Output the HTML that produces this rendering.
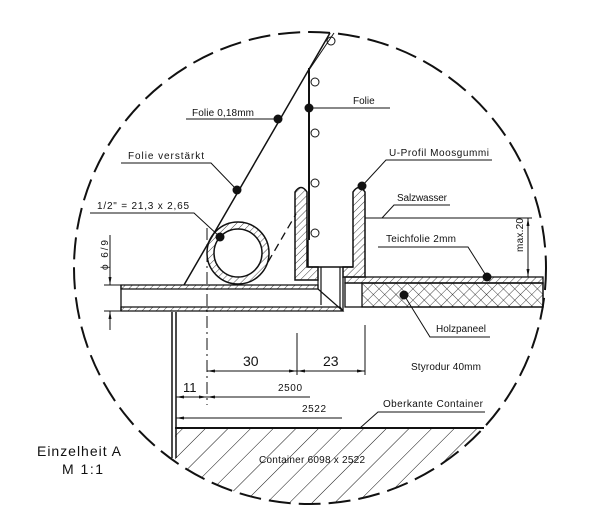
<!DOCTYPE html>
<html><head><meta charset="utf-8"><style>
html,body{margin:0;padding:0;background:#fff;}
svg{display:block;}
text{font-family:"Liberation Sans",sans-serif;fill:#111;}
</style></head><body>
<svg width="600" height="527" viewBox="0 0 600 527" xmlns="http://www.w3.org/2000/svg">
<defs>
<pattern id="h1" width="5" height="5" patternUnits="userSpaceOnUse" patternTransform="rotate(45)"><line x1="0" y1="0" x2="0" y2="5" stroke="#111" stroke-width="0.8"/></pattern>
<pattern id="h2" width="16" height="16" patternUnits="userSpaceOnUse" patternTransform="rotate(45)"><line x1="0" y1="0" x2="0" y2="16" stroke="#111" stroke-width="1"/></pattern>
<pattern id="hx" width="8" height="8" patternUnits="userSpaceOnUse" patternTransform="rotate(45)"><line x1="0" y1="0" x2="0" y2="8" stroke="#111" stroke-width="0.8"/><line x1="0" y1="0" x2="8" y2="0" stroke="#111" stroke-width="0.8"/></pattern>
<clipPath id="cc"><circle cx="310" cy="268" r="236"/></clipPath>
<marker id="ar" markerWidth="8" markerHeight="6" refX="8" refY="3" orient="auto-start-reverse" markerUnits="userSpaceOnUse"><path d="M0,1.5 L8,3 L0,4.5z" fill="#111"/></marker>
</defs>
<g fill="none" stroke="#111">
<circle cx="310" cy="268" r="236" stroke-width="2" stroke-dasharray="22,8"/>
<g clip-path="url(#cc)">
<rect x="175" y="428" width="320" height="90" fill="url(#h2)" stroke="none"/>
</g>
<line x1="175" y1="428" x2="484" y2="428" stroke-width="2"/>
<line x1="172" y1="312" x2="172" y2="458" stroke-width="1.5"/>
<line x1="176" y1="312" x2="176" y2="458" stroke-width="1.5"/>
<line x1="330" y1="33" x2="184" y2="285" stroke-width="1.5"/>
<line x1="334" y1="33" x2="309" y2="70" stroke-width="1"/>
<line x1="309" y1="68" x2="309" y2="240" stroke-width="2"/>
<line x1="308" y1="240" x2="308" y2="267" stroke-width="1.5"/>
<line x1="308" y1="267" x2="353" y2="267" stroke-width="1.5"/>
<circle cx="331" cy="41" r="4" stroke-width="1"/>
<circle cx="315" cy="82" r="4" stroke-width="1"/>
<circle cx="315" cy="133" r="4" stroke-width="1"/>
<circle cx="315" cy="183" r="4" stroke-width="1"/>
<circle cx="315" cy="233" r="4" stroke-width="1"/>
<path d="M295,192 Q301,183 307,192 L307,267 L318,267 L318,280 L295,280 Z" fill="url(#h1)" stroke-width="1.5"/>
<path d="M353,192 Q359,183 365,192 L365,277 L343,277 L343,267 L353,267 Z" fill="url(#h1)" stroke-width="1.5"/>
<line x1="321" y1="267" x2="321" y2="305" stroke-width="1.2"/>
<line x1="340" y1="267" x2="340" y2="307" stroke-width="1.2"/>
<path d="M121,285 L318,285 L318,289 L121,289 Z" fill="url(#h1)" stroke-width="1.3"/>
<path d="M121,307 L340,307 L343,311 L121,311 Z" fill="url(#h1)" stroke-width="1.3"/>
<line x1="121" y1="285" x2="121" y2="311" stroke-width="1.3"/>
<line x1="318" y1="289" x2="343" y2="311" stroke-width="1.2"/>
<line x1="318" y1="280" x2="318" y2="289" stroke-width="1.2"/>
<line x1="343" y1="277" x2="343" y2="311" stroke-width="1.3"/>
<circle cx="238" cy="253" r="31" fill="url(#h1)" stroke-width="1.5"/>
<circle cx="238" cy="253" r="24" fill="#fff" stroke-width="1.5"/>
<line x1="268" y1="262" x2="296" y2="214" stroke-width="1.3" stroke-dasharray="8,5"/>
<rect x="345" y="277" width="198" height="6" fill="url(#h1)" stroke-width="1.3"/>
<rect x="345" y="283" width="198" height="24" stroke-width="1.3"/>
<rect x="362" y="283" width="181" height="24" fill="url(#hx)" stroke-width="1.3"/>
<line x1="365" y1="218" x2="532" y2="218" stroke-width="1"/>
<line x1="528" y1="218" x2="528" y2="277" stroke-width="1" marker-start="url(#ar)" marker-end="url(#ar)"/>
<line x1="110" y1="235" x2="110" y2="285" stroke-width="1" marker-end="url(#ar)"/>
<line x1="110" y1="330" x2="110" y2="311" stroke-width="1" marker-end="url(#ar)"/>
<line x1="104" y1="285" x2="121" y2="285" stroke-width="1"/>
<line x1="104" y1="311" x2="121" y2="311" stroke-width="1"/>
<line x1="207" y1="228" x2="207" y2="405" stroke-width="1" stroke-dasharray="12,4,2,4"/>
<line x1="297" y1="333" x2="297" y2="375" stroke-width="1"/>
<line x1="365" y1="325" x2="365" y2="375" stroke-width="1"/>
<line x1="207" y1="371" x2="297" y2="371" stroke-width="1" marker-start="url(#ar)" marker-end="url(#ar)"/>
<line x1="297" y1="371" x2="365" y2="371" stroke-width="1" marker-start="url(#ar)" marker-end="url(#ar)"/>
<line x1="176" y1="397" x2="207" y2="397" stroke-width="1" marker-start="url(#ar)" marker-end="url(#ar)"/>
<line x1="207" y1="397" x2="310" y2="397" stroke-width="1" marker-start="url(#ar)"/>
<line x1="176" y1="418" x2="342" y2="418" stroke-width="1" marker-start="url(#ar)"/>
<line x1="309" y1="108" x2="390" y2="108" stroke-width="1"/>
<line x1="278" y1="119" x2="186" y2="119" stroke-width="1"/>
<polyline points="237,190 211,163 121,163" stroke-width="1"/>
<polyline points="362,186 386,160 492,160" stroke-width="1"/>
<polyline points="220,237 194,213 90,213" stroke-width="1"/>
<polyline points="382,218 394,205 450,205" stroke-width="1"/>
<polyline points="487,277 468,247 378,247" stroke-width="1"/>
<polyline points="404,295 430,337 490,337" stroke-width="1"/>
<polyline points="360,428 378,412 485,412" stroke-width="1"/>
</g>
<g fill="#111">
<circle cx="309" cy="108" r="4.5"/><circle cx="278" cy="119" r="4.5"/><circle cx="237" cy="190" r="4.5"/>
<circle cx="220" cy="237" r="4.5"/><circle cx="362" cy="186" r="4.5"/><circle cx="487" cy="277" r="4.5"/><circle cx="404" cy="295" r="4.5"/>
</g>
<g font-size="10">
<text x="353" y="104">Folie</text>
<text x="192" y="116" textLength="62">Folie 0,18mm</text>
<text x="128" y="159" textLength="76">Folie verstärkt</text>
<text x="389" y="156" textLength="100">U-Profil  Moosgummi</text>
<text x="97" y="209" textLength="92">1/2" = 21,3 x 2,65</text>
<text x="397" y="201" textLength="50">Salzwasser</text>
<text x="386" y="242" textLength="70">Teichfolie 2mm</text>
<text x="436" y="332" textLength="50">Holzpaneel</text>
<text x="411" y="370" textLength="70">Styrodur 40mm</text>
<text x="383" y="407" textLength="100">Oberkante Container</text>
<text x="259" y="463" textLength="106">Container 6098 x 2522</text>
<text x="278" y="391" textLength="24">2500</text>
<text x="302" y="412" textLength="24">2522</text>
<text transform="translate(108,270) rotate(-90)" textLength="30">ϕ 6/9</text>
<text transform="translate(523,252) rotate(-90)" textLength="34">max.20</text>
</g>
<g font-size="14">
<text x="243" y="366">30</text>
<text x="323" y="366">23</text>
<text x="183" y="392" font-size="13">11</text>
<text x="37" y="456" textLength="84">Einzelheit A</text>
<text x="62" y="474" textLength="41">M 1:1</text>
</g>
</svg>
</body></html>
